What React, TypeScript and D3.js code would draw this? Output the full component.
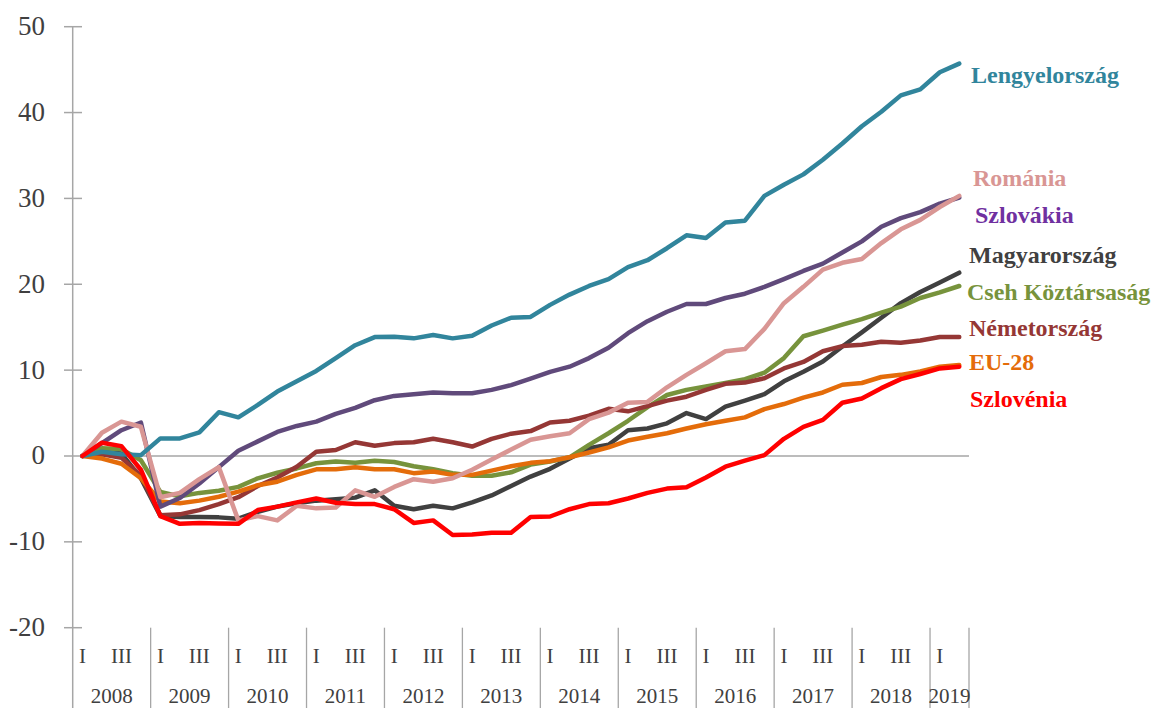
import React from "react";
import * as d3 from "d3";

const years = ["2008", "2009", "2010", "2011", "2012", "2013", "2014", "2015", "2016", "2017", "2018", "2019"];
const quarterNames = ["I", "II", "III", "IV"];
const quartersLastYear = 2;
const shownQuarterLabels = ["I", "III"];
const yTicks = [50, 40, 30, 20, 10, 0, -10, -20];

const categories = years.flatMap((y, yi) =>
  (yi === years.length - 1 ? quarterNames.slice(0, quartersLastYear) : quarterNames).map((q) => ({ year: y, q, key: `${y}-${q}` }))
);

const lengyelorszag = [0, 0.5, 0.2, 0.1, 2.05, 2.05, 2.75, 5.1, 4.5, 5.95, 7.5, 8.7, 9.9, 11.4, 12.9, 13.85, 13.9, 13.7, 14.1, 13.7, 14.0, 15.2, 16.1, 16.2, 17.6, 18.8, 19.8, 20.6, 22.0, 22.8, 24.2, 25.7, 25.4, 27.2, 27.4, 30.3, 31.6, 32.8, 34.5, 36.4, 38.4, 40.1, 42.0, 42.7, 44.7, 45.7];
const romania = [0, 2.7, 4.0, 3.4, -4.8, -4.3, -2.7, -1.3, -7.5, -7.0, -7.5, -5.8, -6.1, -6.0, -4.0, -4.75, -3.6, -2.7, -3.0, -2.6, -1.6, -0.4, 0.75, 1.9, 2.3, 2.65, 4.3, 5.05, 6.2, 6.3, 8.0, 9.45, 10.8, 12.2, 12.45, 14.8, 17.8, 19.7, 21.7, 22.5, 22.95, 24.8, 26.4, 27.5, 29.0, 30.3];
const szlovakia = [0, 1.5, 3.0, 3.9, -5.9, -4.9, -3.2, -1.3, 0.6, 1.7, 2.8, 3.5, 4.0, 4.9, 5.6, 6.5, 7.0, 7.2, 7.4, 7.3, 7.3, 7.7, 8.25, 9.0, 9.8, 10.4, 11.4, 12.6, 14.3, 15.7, 16.8, 17.7, 17.7, 18.4, 18.9, 19.7, 20.6, 21.55, 22.4, 23.7, 25.0, 26.7, 27.7, 28.4, 29.4, 30.1];
const magyarorszag = [0, 0.5, 0.3, -2.6, -7.0, -7.1, -7.1, -7.15, -7.3, -6.5, -5.9, -5.5, -5.2, -5.05, -4.85, -4.0, -5.8, -6.2, -5.8, -6.1, -5.4, -4.6, -3.5, -2.4, -1.5, -0.3, 0.9, 1.3, 3.0, 3.2, 3.8, 5.0, 4.3, 5.75, 6.45, 7.2, 8.7, 9.8, 11.0, 12.75, 14.4, 16.1, 17.8, 19.1, 20.2, 21.35];
const cseh = [0, 0.9, 0.8, -0.5, -4.2, -4.7, -4.3, -4.05, -3.6, -2.6, -1.95, -1.45, -0.85, -0.65, -0.8, -0.55, -0.7, -1.2, -1.55, -2.0, -2.3, -2.3, -1.9, -1.0, -0.65, -0.15, 1.3, 2.65, 4.1, 5.7, 7.1, 7.7, 8.1, 8.5, 8.95, 9.7, 11.4, 13.95, 14.6, 15.3, 15.95, 16.7, 17.4, 18.4, 19.05, 19.8];
const nemetorszag = [0, 0.2, -0.2, -2.3, -6.9, -6.8, -6.3, -5.6, -4.8, -3.5, -2.5, -1.25, 0.5, 0.7, 1.6, 1.2, 1.5, 1.6, 2.0, 1.6, 1.1, 2.0, 2.6, 2.9, 3.9, 4.1, 4.7, 5.5, 5.2, 5.8, 6.45, 6.9, 7.7, 8.4, 8.55, 9.05, 10.2, 10.95, 12.2, 12.8, 12.95, 13.3, 13.2, 13.45, 13.85, 13.85];
const eu28 = [0, -0.3, -0.9, -2.6, -5.3, -5.5, -5.2, -4.75, -4.15, -3.4, -3.0, -2.2, -1.55, -1.55, -1.3, -1.55, -1.55, -2.0, -1.8, -2.2, -2.2, -1.7, -1.2, -0.8, -0.6, -0.15, 0.4, 1.0, 1.8, 2.25, 2.65, 3.2, 3.7, 4.1, 4.5, 5.45, 6.05, 6.8, 7.4, 8.3, 8.5, 9.2, 9.45, 9.85, 10.4, 10.6];
const szlovenia = [0, 1.55, 1.15, -1.6, -7.0, -7.9, -7.8, -7.85, -7.9, -6.3, -5.9, -5.4, -4.95, -5.45, -5.6, -5.6, -6.2, -7.8, -7.5, -9.2, -9.15, -8.95, -8.95, -7.1, -7.05, -6.2, -5.6, -5.5, -4.95, -4.3, -3.8, -3.65, -2.5, -1.25, -0.55, 0.1, 2.0, 3.4, 4.2, 6.2, 6.7, 7.9, 8.95, 9.55, 10.2, 10.4];

// drawing order (later on top)
const series = [
  { name: "Magyarország", values: magyarorszag, color: "#404040", labelColor: "#404040" },
  { name: "Cseh Köztársaság", values: cseh, color: "#77933C", labelColor: "#77933C" },
  { name: "Németország", values: nemetorszag, color: "#953735", labelColor: "#953735" },
  { name: "EU-28", values: eu28, color: "#E46C0A", labelColor: "#E46C0A" },
  { name: "Szlovákia", values: szlovakia, color: "#604A7B", labelColor: "#7030A0" },
  { name: "Románia", values: romania, color: "#D99694", labelColor: "#D99694" },
  { name: "Lengyelország", values: lengyelorszag, color: "#31859C", labelColor: "#31859C" },
  { name: "Szlovénia", values: szlovenia, color: "#FF0000", labelColor: "#FF0000" },
];

// label layout (pixel baselines / x)
const labelLayout: Record<string, { x: number; y: number }> = {
  "Lengyelország": { x: 971, y: 83 },
  "Románia": { x: 973, y: 186 },
  "Szlovákia": { x: 975, y: 223 },
  "Magyarország": { x: 969, y: 263 },
  "Cseh Köztársaság": { x: 967, y: 300 },
  "Németország": { x: 969, y: 336 },
  "EU-28": { x: 969, y: 370 },
  "Szlovénia": { x: 970, y: 407 },
};

const W = 1153;
const H = 708;
const axisX = 72.7;
const plotRight = 969;
const yTop = 26.7;
const yBottom = 627.7;
const gridColor = "#A6A6A6";
const textColor = "#404040";
const serif = "'Liberation Serif', 'DejaVu Serif', serif";

export default function App() {
  const x = d3.scaleBand<string>().domain(categories.map((c) => c.key)).range([axisX, plotRight]).paddingInner(0).paddingOuter(0);
  const y = d3.scaleLinear().domain([-20, 50]).range([yBottom, yTop]);
  const bw = x.bandwidth();
  const cx = (i: number) => (x(categories[i].key) as number) + bw / 2;

  const line = d3
    .line<number>()
    .x((_, i) => cx(i))
    .y((d) => y(d));

  const yearSpans = years.map((yr) => {
    const idx = categories.map((c, i) => (c.year === yr ? i : -1)).filter((i) => i >= 0);
    const x0 = x(categories[idx[0]].key) as number;
    const x1 = (x(categories[idx[idx.length - 1]].key) as number) + bw;
    return { yr, x0, x1 };
  });

  return (
    <svg width={W} height={H} style={{ position: "absolute", left: 0, top: 0, background: "#fff" }}>
      {/* y axis */}
      <line x1={axisX} x2={axisX} y1={y(50)} y2={H} stroke={gridColor} strokeWidth={1.5} />
      {yTicks.map((t) => (
        <g key={t}>
          <line x1={64} x2={t === 0 ? plotRight : 82} y1={y(t)} y2={y(t)} stroke={gridColor} strokeWidth={1.5} />
          <text x={45} y={y(t) + 8.5} textAnchor="end" fontFamily={serif} fontSize={27} fill={textColor}>
            {t}
          </text>
        </g>
      ))}
      {/* year separators */}
      {yearSpans.map((s, i) => (
        <g key={s.yr}>
          {i > 0 && <line x1={s.x0} x2={s.x0} y1={yBottom} y2={H} stroke={gridColor} strokeWidth={1.3} />}
          {i === yearSpans.length - 1 && <line x1={s.x1} x2={s.x1} y1={yBottom} y2={H} stroke={gridColor} strokeWidth={1.3} />}
          <text x={(s.x0 + s.x1) / 2} y={703} textAnchor="middle" fontFamily={serif} fontSize={21} fill={textColor}>
            {s.yr}
          </text>
        </g>
      ))}
      {categories.map((c, i) =>
        shownQuarterLabels.includes(c.q) ? (
          <text key={c.key} x={cx(i)} y={663} textAnchor="middle" fontFamily={serif} fontSize={21} fill={textColor}>
            {c.q}
          </text>
        ) : null
      )}
      {/* lines */}
      {series.map((s) => (
        <path key={s.name} d={line(s.values) || ""} fill="none" stroke={s.color} strokeWidth={4.5} strokeLinejoin="round" strokeLinecap="round" />
      ))}
      {/* labels */}
      {series.map((s) => (
        <text key={s.name} x={labelLayout[s.name].x} y={labelLayout[s.name].y} fontFamily={serif} fontWeight="bold" fontSize={24} fill={s.labelColor}>
          {s.name}
        </text>
      ))}
    </svg>
  );
}
